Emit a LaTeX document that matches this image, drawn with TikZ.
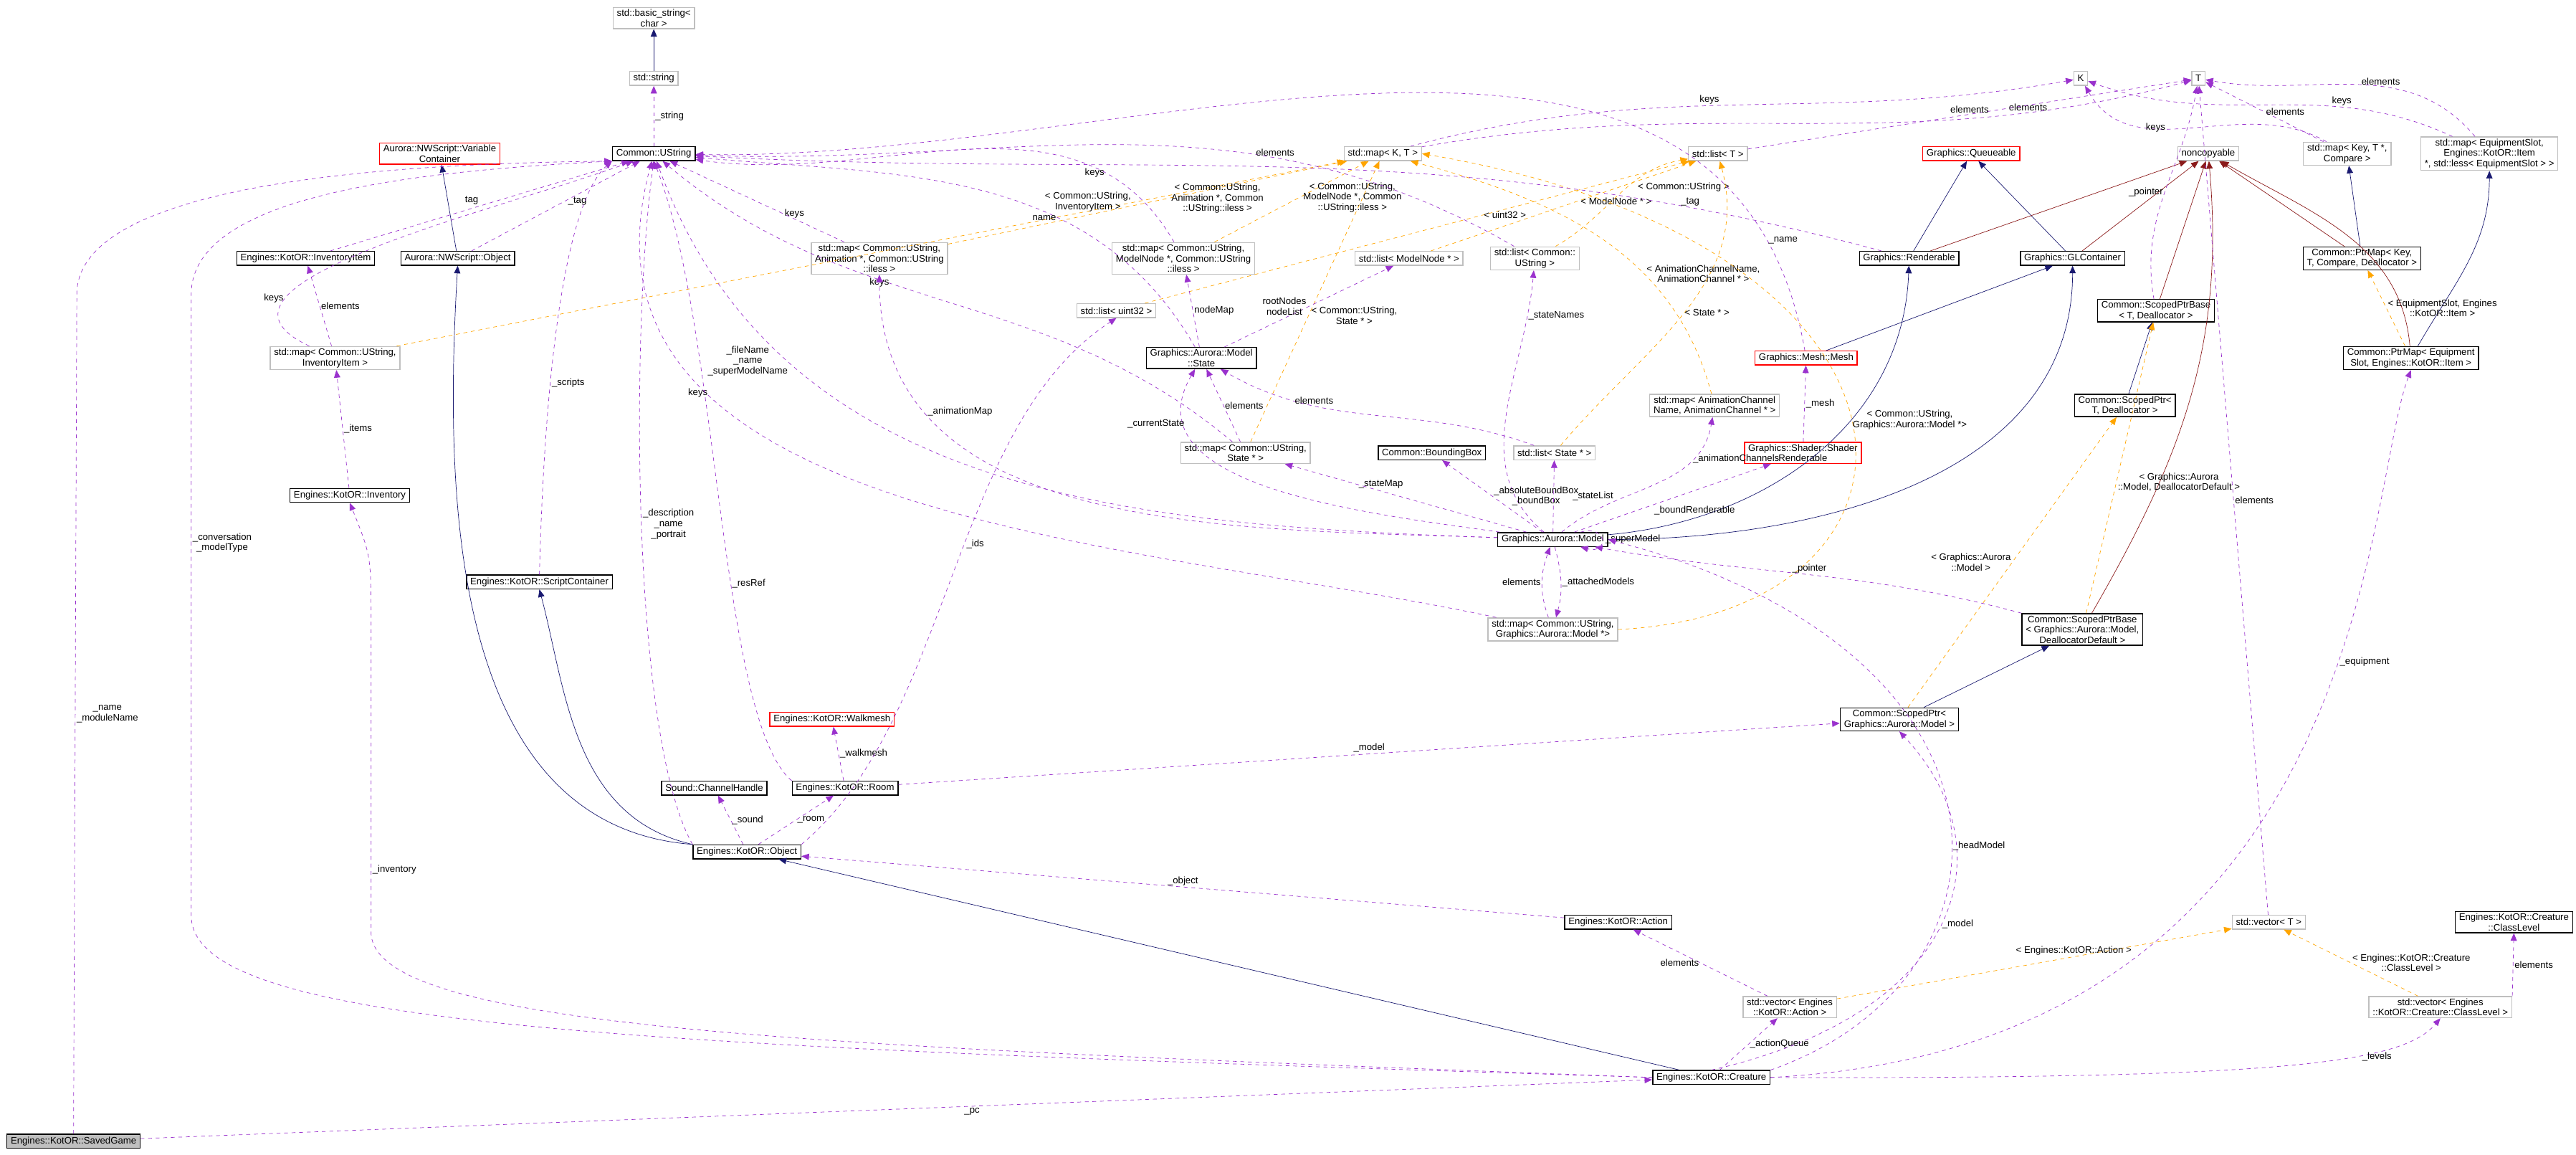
\documentclass[tikz,border=0pt]{standalone}
\usepackage{fontspec}
\setmainfont{Liberation Sans}
\usetikzlibrary{arrows.meta}
\definecolor{usecol}{HTML}{9A32CD}
\definecolor{tplcol}{HTML}{FFA500}
\definecolor{inhcol}{HTML}{191970}
\definecolor{prvcol}{HTML}{8B1A1A}
\begin{document}
\begin{tikzpicture}[x=0.0456cm,y=-0.0456cm,font=\fontsize{7.5}{8.3}\selectfont,
        cls/.style={rectangle,draw=black,thick,fill=white,align=center,inner xsep=3pt,inner ysep=1.5pt,minimum height=11},
        ext/.style={cls,draw=black!25},
        redcls/.style={cls,draw=red},
        self/.style={cls,fill=black!25},
        use/.style={draw=usecol,dashed,-{Triangle[length=6pt,width=5pt]}},
        tpl/.style={draw=tplcol,dashed,-{Triangle[length=6pt,width=5pt]}},
        inh/.style={draw=inhcol,-{Triangle[length=6pt,width=5pt]}},
        prv/.style={draw=prvcol,-{Triangle[length=6pt,width=5pt]}},
        lbl/.style={fill=none,align=center,inner sep=1pt,text=black}]
        \useasboundingbox (0,0) rectangle (1576,706);
        % top rows
        \node[ext] (basic)  at (400,11) {std::basic\_string\textless\\char \textgreater};
        \node[ext] (sstr)   at (400,48) {std::string};
        \node[cls] (ustr)   at (400,94) {Common::UString};
        \node[redcls] (varc) at (269,94) {Aurora::NWScript::Variable\\Container};
        \node[ext] (mapkt)  at (846,94) {std::map\textless{} K, T \textgreater};
        \node[ext] (listt)  at (1051,94) {std::list\textless{} T \textgreater};
        \node[redcls] (queue) at (1206,94) {Graphics::Queueable};
        \node[ext] (noncp)  at (1351,94) {noncopyable};
        \node[ext] (mapkeyt) at (1436,94) {std::map\textless{} Key, T *,\\Compare \textgreater};
        \node[ext] (mapeq)  at (1523,94) {std::map\textless{} EquipmentSlot,\\Engines::KotOR::Item\\*, std::less\textless{} EquipmentSlot \textgreater{} \textgreater};
        \node[ext] (kk)     at (1273,48) {K};
        \node[ext] (tt)     at (1345,48) {T};
        % second rows
        \node[cls] (invit)  at (187,158) {Engines::KotOR::InventoryItem};
        \node[cls] (nwobj)  at (280,158) {Aurora::NWScript::Object};
        \node[ext] (mapinv) at (205,219) {std::map\textless{} Common::UString,\\InventoryItem \textgreater};
        \node[ext] (mapanim) at (538,158) {std::map\textless{} Common::UString,\\Animation *, Common::UString\\::iless \textgreater};
        \node[ext] (mapmn)  at (724,158) {std::map\textless{} Common::UString,\\ModelNode *, Common::UString\\::iless \textgreater};
        \node[ext] (listmn) at (862,158) {std::list\textless{} ModelNode * \textgreater};
        \node[ext] (listus) at (939,158) {std::list\textless{} Common::\\UString \textgreater};
        \node[ext] (listu32) at (683,190) {std::list\textless{} uint32 \textgreater};
        \node[cls] (state)  at (735,219) {Graphics::Aurora::Model\\::State};
        \node[cls] (rend)   at (1168,158) {Graphics::Renderable};
        \node[cls] (glc)    at (1268,158) {Graphics::GLContainer};
        \node[cls] (ptrmap) at (1445,158) {Common::PtrMap\textless{} Key,\\T, Compare, Deallocator \textgreater};
        \node[cls] (spbt)   at (1319,190) {Common::ScopedPtrBase\\\textless{} T, Deallocator \textgreater};
        \node[redcls] (mesh) at (1105,219) {Graphics::Mesh::Mesh};
        \node[cls] (ptrmeq) at (1475,219) {Common::PtrMap\textless{} Equipment\\Slot, Engines::KotOR::Item \textgreater};
        \node[cls] (spt)    at (1300,248) {Common::ScopedPtr\textless\\T, Deallocator \textgreater};
        \node[ext] (mapac)  at (1049,248) {std::map\textless{} AnimationChannel\\Name, AnimationChannel * \textgreater};
        \node[ext] (mapst)  at (762,277) {std::map\textless{} Common::UString,\\State * \textgreater};
        \node[cls] (bbox)   at (876,277) {Common::BoundingBox};
        \node[ext] (listst) at (951,277) {std::list\textless{} State * \textgreater};
        \node[redcls] (shrend) at (1103,277) {Graphics::Shader::Shader\\Renderable};
        \node[cls] (inv)    at (214,303) {Engines::KotOR::Inventory};
        \node[cls] (scont)  at (330,356) {Engines::KotOR::ScriptContainer};
        % model rows
        \node[cls] (model)  at (950,330) {Graphics::Aurora::Model};
        \node[ext] (mapmod) at (950,385) {std::map\textless{} Common::UString,\\Graphics::Aurora::Model *\textgreater};
        \node[cls] (spbm)   at (1274,385) {Common::ScopedPtrBase\\\textless{} Graphics::Aurora::Model,\\DeallocatorDefault \textgreater};
        \node[redcls] (walk) at (509,440) {Engines::KotOR::Walkmesh};
        \node[cls] (spm)    at (1162,440) {Common::ScopedPtr\textless\\Graphics::Aurora::Model \textgreater};
        \node[cls] (room)   at (517,482) {Engines::KotOR::Room};
        \node[cls] (sound)  at (437,482) {Sound::ChannelHandle};
        \node[cls] (obj)    at (457,521) {Engines::KotOR::Object};
        \node[cls] (action) at (990,564) {Engines::KotOR::Action};
        \node[ext] (vect)   at (1388,564) {std::vector\textless{} T \textgreater};
        \node[cls] (clvl)   at (1538,564) {Engines::KotOR::Creature\\::ClassLevel};
        \node[ext] (vecact) at (1095,616) {std::vector\textless{} Engines\\::KotOR::Action \textgreater};
        \node[ext] (veccl)  at (1493,616) {std::vector\textless{} Engines\\::KotOR::Creature::ClassLevel \textgreater};
        \node[cls] (crea)   at (1047,659) {Engines::KotOR::Creature};
        \node[self] (saved) at (45,698) {Engines::KotOR::SavedGame};

        % inheritance
        \path (sstr) edge[inh] (basic)
              (nwobj) edge[inh] (varc)
              (crea) edge[inh] (obj)
              (model) edge[inh, out=5, in=-92] (rend)
              (model) edge[inh, out=0, in=-90] (glc)
              (rend) edge[inh] (queue)
              (glc) edge[inh] (queue)
              (mesh) edge[inh] (glc)
              (ptrmap) edge[inh] (mapkeyt)
              (ptrmeq) edge[inh, out=60, in=-90] (mapeq)
              (spt) edge[inh] (spbt)
              (spm) edge[inh] (spbm)
              (rend) edge[prv] (noncp)
              (glc) edge[prv] (noncp)
              (spbt) edge[prv] (noncp)
              (ptrmap) edge[prv] (noncp)
              (ptrmeq) edge[prv, out=95, in=-30] (noncp)
              (spbm) edge[prv, out=60, in=-85] (noncp);
        \draw[inh] (obj.north west) .. controls (274,505) and (272,300) .. (nwobj.south);
        \draw[inh] (obj.north west) .. controls (350,500) and (346,420) .. (scont.south);

        % templates
        \path (mapinv) edge[tpl] node[lbl, pos=0.78, left=3pt]{\textless{} Common::UString,\\InventoryItem \textgreater} (mapkt)
              (mapanim) edge[tpl] node[lbl, pos=0.55, right=2pt]{\textless{} Common::UString,\\Animation *, Common\\::UString::iless \textgreater} (mapkt)
              (mapmn) edge[tpl] node[lbl, pos=0.55, right=2pt]{\textless{} Common::UString,\\ModelNode *, Common\\::UString::iless \textgreater} (mapkt)
              (mapst) edge[tpl] node[lbl, pos=0.45, right=1pt]{\textless{} Common::UString,\\State * \textgreater} (mapkt)
              (mapac) edge[tpl, out=105, in=-15] node[lbl, pos=0.35, right=1pt]{\textless{} AnimationChannelName,\\AnimationChannel * \textgreater} (mapkt)
              (listu32) edge[tpl] node[lbl, pos=0.62, right]{\textless{} uint32 \textgreater} (listt)
              (listmn) edge[tpl] node[lbl, pos=0.55, right=2pt]{\textless{} ModelNode * \textgreater} (listt)
              (listus) edge[tpl, out=30, in=-170] node[lbl, pos=0.65, below right]{\textless{} Common::UString \textgreater} (listt)
              (listst) edge[tpl, out=50, in=-75] node[lbl, pos=0.5, right]{\textless{} State * \textgreater} (listt)
              (ptrmeq) edge[tpl] node[lbl, pos=0.5, right]{\textless{} EquipmentSlot, Engines\\::KotOR::Item \textgreater} (ptrmap)
              (spbm) edge[tpl] node[lbl, pos=0.45, right]{\textless{} Graphics::Aurora\\::Model, DeallocatorDefault \textgreater} (spbt)
              (spm) edge[tpl] node[lbl, pos=0.5, left]{\textless{} Graphics::Aurora\\::Model \textgreater} (spt)
              (vecact) edge[tpl] node[lbl, pos=0.6, above]{\textless{} Engines::KotOR::Action \textgreater} (vect)
              (veccl) edge[tpl] node[lbl, pos=0.5, right]{\textless{} Engines::KotOR::Creature\\::ClassLevel \textgreater} (vect);
        \draw[tpl] (mapmod.east) .. controls (1200,375) and (1200,150) .. node[lbl, pos=0.5, right]{\textless{} Common::UString,\\Graphics::Aurora::Model *\textgreater} (mapkt.east);

        % members
        \path (ustr) edge[use] node[lbl, right]{\_string} (sstr)
              (invit) edge[use] node[lbl, pos=0.5, above left]{tag} (ustr)
              (nwobj) edge[use] node[lbl, pos=0.55, right=2pt]{\_tag} (ustr)
              (mapinv) edge[use] node[lbl, right]{elements} (invit)
              (mapinv) edge[use, out=155, in=200] node[lbl, pos=0.25, left]{keys} (ustr)
              (inv) edge[use] node[lbl, right]{\_items} (mapinv)
              (mapanim) edge[use] node[lbl, pos=0.35, right]{keys} (ustr)
              (mapmn) edge[use, out=120, in=-8] node[lbl, pos=0.2, left]{keys} (ustr)
              (state) edge[use, out=120, in=-5] node[lbl, pos=0.35, left]{name} (ustr)
              (state) edge[use] node[lbl, right]{nodeMap} (mapmn)
              (state) edge[use] node[lbl, pos=0.5, left=1pt]{rootNodes\\nodeList} (listmn)
              (listus) edge[use, out=150, in=-2] node[lbl, pos=0.3, above]{elements} (ustr)
              (mapkt) edge[use, out=15, in=190] node[lbl, pos=0.45, above]{keys} (kk)
              (mapkt) edge[use, out=10, in=195] node[lbl, pos=0.8, above]{elements} (tt)
              (listt) edge[use] node[lbl, pos=0.5, above]{elements} (tt)
              (mapkeyt) edge[use, out=150, in=-60] node[lbl, pos=0.6, left]{keys} (kk)
              (mapkeyt) edge[use] node[lbl, pos=0.5, right]{elements} (tt)
              (mapeq) edge[use, out=155, in=-20] node[lbl, pos=0.3, above]{keys} (kk)
              (mapeq) edge[use, out=130, in=-10] node[lbl, pos=0.4, above]{elements} (tt)
              (vect) edge[use] node[lbl, pos=0.5, right]{elements} (tt)
              (spbt) edge[use, out=100, in=-100] node[lbl, pos=0.5, left]{\_pointer} (tt)
              (rend) edge[use, out=165, in=-3] node[lbl, pos=0.15, above]{\_tag} (ustr)
              (mesh) edge[use, out=100, in=-1] node[lbl, pos=0.1, right]{\_name} (ustr)
              (mapst) edge[use, out=140, in=-40] node[lbl, pos=0.6, left]{keys} (ustr)
              (mapst) edge[use] node[lbl, pos=0.5, right]{elements} (state)
              (model) edge[use, out=178, in=-70] node[lbl, pos=0.75, left]{\_fileName\\\_name\\\_superModelName} (ustr)
              (model) edge[use, out=178, in=-90] node[lbl, pos=0.78, right]{\_animationMap} (mapanim)
              (model) edge[use, out=172, in=-120] node[lbl, pos=0.82, left]{\_currentState} (state)
              (model) edge[use] node[lbl, pos=0.7, right]{\_stateMap} (mapst)
              (model) edge[use, out=140, in=-95] node[lbl, pos=0.85, right]{\_stateNames} (listus)
              (model) edge[use] node[lbl, pos=0.5, right]{\_absoluteBoundBox\\\_boundBox} (bbox)
              (model) edge[use] node[lbl, pos=0.5, right=14pt]{\_stateList} (listst)
              (listst) edge[use, out=160, in=-30] node[lbl, pos=0.7, above]{elements} (state)
              (model) edge[use, out=40, in=-100] node[lbl, pos=0.75, right]{\_animationChannels} (mapac)
              (model) edge[use] node[lbl, pos=0.4, below right]{\_boundRenderable} (shrend)
              (shrend) edge[use] node[lbl, right]{\_mesh} (mesh)
              (model) edge[use, loop right, looseness=5] node[lbl, right=2pt]{\_superModel} (model)
              (spbm) edge[use, out=165, in=-10] node[lbl, pos=0.5, above]{\_pointer} (model)
              (mapmod) edge[use, out=110, in=-110] node[lbl, pos=0.5, left]{elements} (model)
              (model) edge[use, out=-75, in=75] node[lbl, pos=0.5, right]{\_attachedModels} (mapmod)
              (mapmod) edge[use, out=168, in=-105] node[lbl, pos=0.72, left]{keys} (ustr)
              (room) edge[use] node[lbl, right]{\_walkmesh} (walk)
              (room) edge[use] node[lbl, pos=0.5, above]{\_model} (spm)
              (obj) edge[use] node[lbl, right]{\_sound} (sound)
              (obj) edge[use] node[lbl, right]{\_room} (room)
              (action) edge[use] node[lbl, pos=0.5, above]{\_object} (obj)
              (vecact) edge[use] node[lbl, pos=0.5, left]{elements} (action)
              (crea) edge[use] node[lbl, pos=0.5, right]{\_actionQueue} (vecact)
              (saved) edge[use] node[lbl, pos=0.55, below]{\_pc} (crea);
        \draw[use] (saved.north) -- node[lbl, pos=0.5, right]{\_name\\\_moduleName} (47,180) .. controls (47,110) and (250,100) .. (ustr.south west);
        \draw[use] (crea.west) .. controls (400,640) and (117,630) .. (117,560) -- node[lbl, pos=0.6, right]{\_conversation\\\_modelType} (117,180) .. controls (117,120) and (250,105) .. (ustr.south west);
        \draw[use] (crea.west) .. controls (500,640) and (227,630) .. (227,570) -- node[lbl, pos=0.2, right]{\_inventory} (227,380) .. controls (227,340) .. (inv.south);
        \draw[use] (scont.north) .. controls (334,200) and (350,120) .. node[lbl, pos=0.3, right]{\_scripts} (ustr.south west);
        \draw[use] (obj.north west) .. controls (386,450) and (386,200) .. node[lbl, pos=0.5, right]{\_description\\\_name\\\_portrait} (ustr.south);
        \draw[use] (room.north west) .. controls (440,440) and (440,200) .. node[lbl, pos=0.4, right]{\_resRef} (ustr.south);
        \draw[use] (obj.north east) .. controls (582,440) and (582,260) .. node[lbl, pos=0.55, right]{\_ids} (listu32.south);
        \draw[use] (crea.north) .. controls (1200,620) and (1230,520) .. node[lbl, pos=0.5, right]{\_model} (spm.south);
        \draw[use] (crea.north east) .. controls (1240,600) and (1250,400) .. node[lbl, pos=0.45, right]{\_headModel} (model.east);
        \draw[use] (crea.east) .. controls (1450,640) and (1447,300) .. node[lbl, pos=0.6, right]{\_equipment} (ptrmeq.south);
        \draw[use] (crea.east) .. controls (1400,660) and (1470,650) .. node[lbl, pos=0.7, below]{\_levels} (veccl.south);
        \draw[use] (veccl.north east) -- node[lbl, right]{elements} (clvl.south);
\end{tikzpicture}
\end{document}
